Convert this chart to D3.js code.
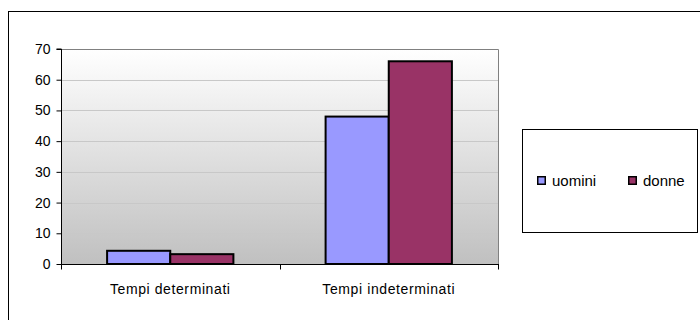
<!DOCTYPE html>
<html><head><meta charset="utf-8">
<script src="https://cdn.jsdelivr.net/npm/d3@7/dist/d3.min.js"></script>
<style>body{margin:0;background:#fff}svg{display:block}text{font-family:"Liberation Sans",Arial,sans-serif}</style>
</head><body>
<svg id="c" width="700" height="320"></svg>
<script>
const categories = ["Tempi determinati", "Tempi indeterminati"];
const seriesNames = ["uomini", "donne"];
const uomini = [4.3, 48];
const donne = [3.2, 66];
const yTicks = [0, 10, 20, 30, 40, 50, 60, 70];
const colors = ["#9999ff", "#993366"];

const svg = d3.select("#c");
const M = {l: 61, r: 498, t: 49, b: 264};

// outer border
svg.append("rect").attr("x", 8.5).attr("y", 11.5).attr("width", 720).attr("height", 340)
  .attr("fill", "#fff").attr("stroke", "#000").attr("stroke-width", 1);

const defs = svg.append("defs");
const g = defs.append("linearGradient").attr("id", "bg").attr("x1", 0).attr("y1", 0).attr("x2", 0).attr("y2", 1);
g.append("stop").attr("offset", "0%").attr("stop-color", "#ffffff");
g.append("stop").attr("offset", "100%").attr("stop-color", "#c0c0c0");

const x = d3.scaleBand().domain(categories).range([M.l, M.r]).paddingInner(0).paddingOuter(0);
const y = d3.scaleLinear().domain([0, 70]).range([M.b, M.t]);

svg.append("rect").attr("x", M.l).attr("y", M.t).attr("width", M.r - M.l).attr("height", M.b - M.t)
  .attr("fill", "url(#bg)");

// gridlines
svg.append("g").selectAll("line").data(yTicks.filter(d => d > 0)).join("line")
  .attr("x1", M.l).attr("x2", M.r).attr("y1", d => Math.round(y(d)) + 0.5).attr("y2", d => Math.round(y(d)) + 0.5)
  .attr("stroke", "#c8c8c8").attr("stroke-width", 1);

// plot right/top border
svg.append("path").attr("d", `M${M.l},${M.t + 0.5}H${M.r + 0.5}V${M.b}`).attr("fill", "none").attr("stroke", "#808080").attr("stroke-width", 1);

// bars
const inner = d3.scaleBand().domain(seriesNames).range([0, x.bandwidth()]).paddingInner(0).paddingOuter(0.73);
const data = [];
categories.forEach((c, i) => {
  data.push({c, s: "uomini", v: uomini[i]});
  data.push({c, s: "donne", v: donne[i]});
});
svg.append("g").selectAll("rect").data(data).join("rect")
  .attr("x", d => x(d.c) + inner(d.s))
  .attr("y", d => y(d.v))
  .attr("width", inner.bandwidth())
  .attr("height", d => y(0) - y(d.v))
  .attr("fill", d => colors[seriesNames.indexOf(d.s)])
  .attr("stroke", "#000").attr("stroke-width", 2);

// y axis
const ya = svg.append("g").attr("transform", `translate(${M.l + 0.5},0)`)
  .call(d3.axisLeft(y).tickValues(yTicks).tickSize(5).tickPadding(6).tickFormat(d3.format("d")));
ya.select(".domain").attr("stroke", "#000").attr("d", `M-5,${M.t}H0V${M.b}`);
ya.selectAll(".tick line").attr("stroke", "#000");
ya.selectAll("text").attr("font-size", 14).attr("fill", "#000").attr("font-family", "'Liberation Sans',Arial,sans-serif");

// x axis
const xa = svg.append("g").attr("transform", `translate(0,${M.b + 0.5})`);
xa.append("line").attr("x1", M.l).attr("x2", M.r + 1).attr("stroke", "#000");
const bounds = [M.l, M.l + x.step(), M.r];
xa.selectAll("line.t").data(bounds).join("line").attr("class", "t")
  .attr("x1", d => Math.round(d) + 0.5).attr("x2", d => Math.round(d) + 0.5).attr("y1", 0).attr("y2", 5).attr("stroke", "#000");
xa.selectAll("text").data(categories).join("text")
  .attr("x", d => x(d) + x.bandwidth() / 2).attr("y", 29)
  .attr("text-anchor", "middle").attr("font-size", 14).attr("letter-spacing", 0.6).attr("fill", "#000")
  .text(d => d);

// legend
svg.append("rect").attr("x", 522.5).attr("y", 129.5).attr("width", 175).attr("height", 103)
  .attr("fill", "#fff").attr("stroke", "#000").attr("stroke-width", 1);
const lg = svg.append("g").selectAll("g").data(seriesNames).join("g")
  .attr("transform", (d, i) => `translate(${537 + i * 91},176)`);
lg.append("rect").attr("x", 0.75).attr("y", 0.75).attr("width", 7.5).attr("height", 7.5)
  .attr("fill", (d, i) => colors[i]).attr("stroke", "#000").attr("stroke-width", 1.5);
lg.append("text").attr("x", 15).attr("y", 10).attr("font-size", 15).attr("fill", "#000").text(d => d);
</script>
</body></html>
